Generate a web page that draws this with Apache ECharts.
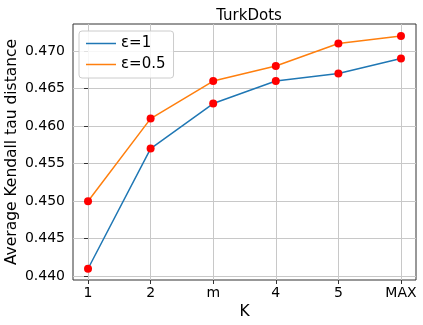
<!DOCTYPE html>
<html>
<head>
<meta charset="utf-8">
<script src="https://cdn.jsdelivr.net/npm/echarts@6/dist/echarts.min.js"></script>
<style>
  html, body { margin: 0; padding: 0; background: #fff; }
  #chart { width: 423px; height: 325px; }
</style>
</head>
<body>
<div id="chart"></div>
<script>
const kLabels = ['1', '2', 'm', '4', '5', 'MAX'];
const eps1 = [0.441, 0.457, 0.463, 0.466, 0.467, 0.469];
const eps05 = [0.450, 0.461, 0.466, 0.468, 0.471, 0.472];
const yTicks = [0.440, 0.445, 0.450, 0.455, 0.460, 0.465, 0.470];

const font = 'DejaVu Sans';
const xTicks = kLabels.map((_, i) => i);
const pts = arr => arr.map((v, i) => [i, v]);

const chart = echarts.init(document.getElementById('chart'), null, { renderer: 'canvas' });

const option = {
  animation: false,
  backgroundColor: '#fff',
  title: {
    text: 'TurkDots',
    left: 244, top: 4, textAlign: 'center',
    textStyle: { fontFamily: font, fontSize: 15, fontWeight: 'normal', color: '#000' }
  },
  legend: {
    left: 79, top: 31,
    orient: 'vertical',
    data: ['ε=1', 'ε=0.5'],
    icon: 'rect',
    itemWidth: 30, itemHeight: 1.5,
    itemGap: 6,
    padding: [5, 8, 6, 7],
    backgroundColor: 'rgba(255,255,255,0.85)',
    borderColor: '#ccc', borderWidth: 1, borderRadius: 3,
    textStyle: { fontFamily: font, fontSize: 15, color: '#000' }
  },
  grid: {
    left: 73, right: 7, top: 24, bottom: 45,
    outerBoundsMode: 'none', containLabel: false,
    show: true, borderColor: '#333', borderWidth: 1
  },
  xAxis: {
    type: 'value', min: -0.24, max: 5.24,
    name: 'K', nameLocation: 'middle', nameGap: 24, nameMoveOverlap: false,
    nameTextStyle: { fontFamily: font, fontSize: 15.5, color: '#000' },
    axisLine: { show: false },
    axisTick: { show: true, length: 4, customValues: xTicks, lineStyle: { color: '#333' } },
    axisLabel: {
      customValues: xTicks, margin: 6,
      fontFamily: font, fontSize: 14, color: '#000',
      formatter: v => kLabels[Math.round(v)]
    },
    splitLine: { show: true, lineStyle: { color: '#c8c8c8', width: 1 } }
  },
  yAxis: {
    type: 'value', min: 0.4395, max: 0.4736,
    name: 'Average Kendall tau distance', nameLocation: 'middle', nameGap: 53, nameMoveOverlap: false,
    nameTextStyle: { fontFamily: font, fontSize: 15.5, color: '#000' },
    axisLine: { show: false },
    axisTick: { show: true, length: 4, customValues: yTicks, lineStyle: { color: '#333' } },
    axisLabel: {
      customValues: yTicks, margin: 8,
      fontFamily: font, fontSize: 14, color: '#000',
      formatter: v => v.toFixed(3)
    },
    splitLine: { show: true, lineStyle: { color: '#c8c8c8', width: 1 } }
  },
  series: [
    { name: 'ε=1', type: 'line', data: pts(eps1), symbol: 'none', color: '#1f77b4', lineStyle: { width: 1.5 }, z: 2 },
    { name: 'ε=0.5', type: 'line', data: pts(eps05), symbol: 'none', color: '#ff7f0e', lineStyle: { width: 1.5 }, z: 2 },
    { type: 'scatter', data: pts(eps1), symbolSize: 8, itemStyle: { color: '#ff0000', opacity: 1 }, z: 3 },
    { type: 'scatter', data: pts(eps05), symbolSize: 8, itemStyle: { color: '#ff0000', opacity: 1 }, z: 3 }
  ]
};
chart.setOption(option);
</script>
</body>
</html>
